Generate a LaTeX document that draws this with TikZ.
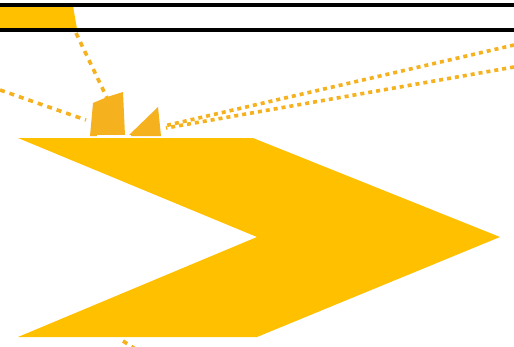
\documentclass[tikz,border=0pt]{standalone}
\definecolor{gold}{HTML}{FFC000}
\definecolor{amber}{HTML}{F5B21E}
\tikzset{
  dashlink/.style={amber, line width=3.6pt, dash pattern=on 5pt off 5pt},
  rule/.style={black, line width=4pt},
}
\begin{document}
\begin{tikzpicture}[x=1pt,y=-1pt]
\useasboundingbox (0,0) rectangle (514,346);
\fill[white] (0,0) rectangle (514,346);
% top bar
\fill[gold] (0,6) -- (73,6) -- (77,29) -- (0,29) -- cycle;
\draw[rule] (0,4.5) -- (514,4.5);
\draw[rule] (0,30) -- (514,30);
% coordinates
\coordinate (barend) at (76,33);
\coordinate (tri1) at (108,100);
\coordinate (leftin) at (0,90);
\coordinate (tri1l) at (86,120);
\coordinate (rtop) at (514,45);
\coordinate (rbot) at (514,67);
\coordinate (tri2) at (164,126);
\coordinate (tri2b) at (166,128);
\coordinate (botstart) at (123,341);
\coordinate (botend) at (140,352);
% dashed connectors
\draw[dashlink] (barend) -- (tri1);
\draw[dashlink] (leftin) -- (tri1l);
\draw[dashlink, dash pattern=on 4pt off 4pt] (rtop) -- (tri2);
\draw[dashlink, dash pattern=on 4pt off 4pt] (rbot) -- (tri2b);
\draw[dashlink] (botstart) -- (botend);
% small triangles
\fill[amber] (90,136) -- (93,103) -- (107,97) -- (123,92) -- (125,136) -- cycle;
\fill[amber] (128,136) -- (158,107) -- (161,136) -- cycle;
\fill[white] (97,134.5) rectangle (131,137);
% chevron
\fill[gold] (18,138) -- (253,138) -- (500,237) -- (257,337) -- (18,337) -- (257,237) -- cycle;
\end{tikzpicture}
\end{document}
